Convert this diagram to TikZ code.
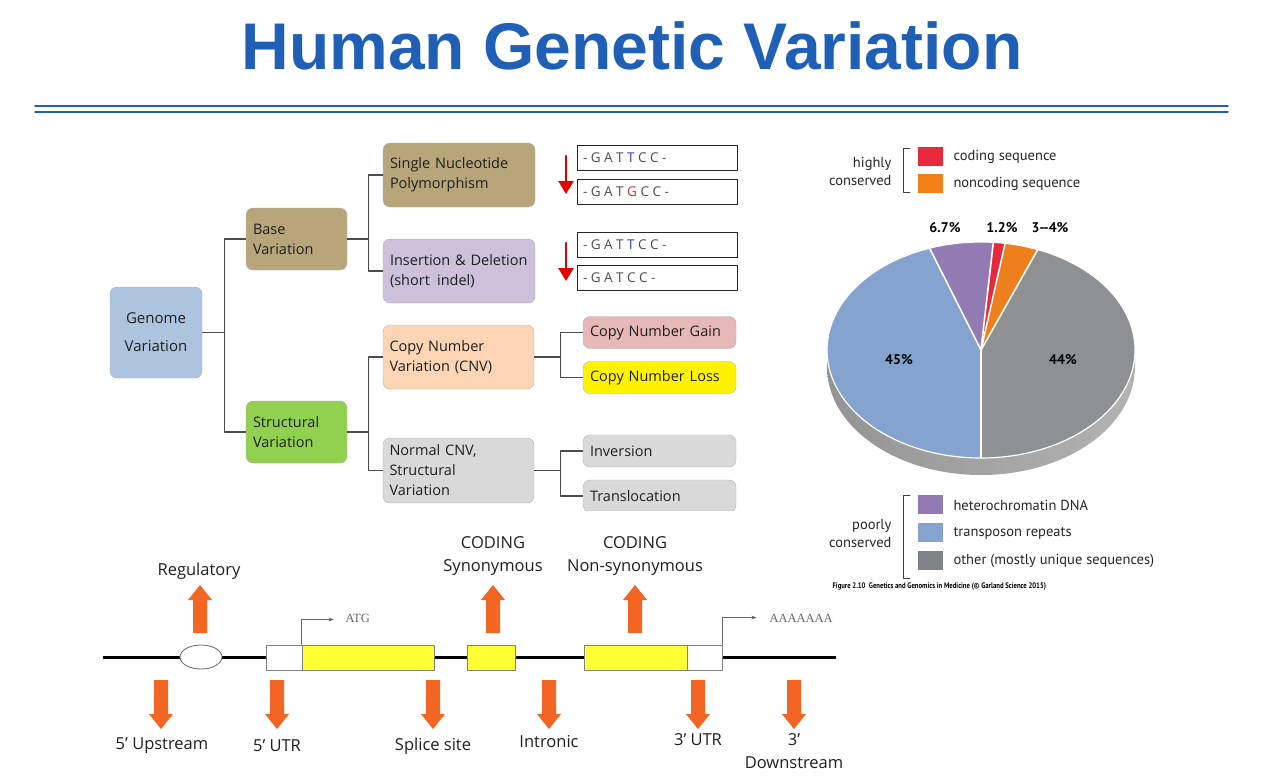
\documentclass[tikz,border=0pt]{standalone}
\usepackage{fontspec}
\setmainfont{Open Sans}
\newfontfamily\titlefont{Liberation Sans}
\newfontfamily\legendfont{PT Sans}
\newfontfamily\tagfont{Liberation Serif}
\usetikzlibrary{arrows.meta}
\definecolor{titleblue}{HTML}{1F5FB5}
\definecolor{genomeblue}{HTML}{ADC4DF}
\definecolor{basetan}{HTML}{B8A67A}
\definecolor{indellilac}{HTML}{CCC0DA}
\definecolor{structgreen}{HTML}{92D050}
\definecolor{cnvpeach}{HTML}{FCD5B5}
\definecolor{gainpink}{HTML}{E6B9B8}
\definecolor{boxgray}{HTML}{D9D9D9}
\definecolor{seqblue}{HTML}{3A3AB0}
\definecolor{seqred}{HTML}{C0392B}
\definecolor{arroworange}{HTML}{F26522}
\definecolor{exonyellow}{HTML}{FFFF33}
\definecolor{codingred}{HTML}{E8293D}
\definecolor{noncodingorange}{HTML}{F57F17}
\definecolor{heteropurple}{HTML}{927BB3}
\definecolor{transpblue}{HTML}{84A4CF}
\definecolor{othergray}{HTML}{8F9092}

\begin{document}
\begin{tikzpicture}[x=1pt,y=-1pt,line cap=round,line join=round,
  varbox/.style={draw=black!30, rounded corners=7pt, inner sep=0pt, text=black!88, font=\fontsize{14.5}{20}\selectfont},
  midbox/.style={varbox, minimum width=152, minimum height=64, text width=138, align=left},
  leafbox/.style={varbox, minimum width=153, minimum height=32, text width=139, align=left},
  seqbox/.style={draw=black!85, line width=0.9pt, minimum width=160, minimum height=25, inner sep=0pt, text width=148, align=left, text=black!70, font=\fontsize{13.5}{15}\selectfont},
  link/.style={draw=black!70, line width=1.1pt, line cap=butt},
  genebox/.style={draw=black!50, line width=0.9pt, minimum height=25, inner sep=0pt},
  tagline/.style={draw=black!60, line width=0.7pt, -{Stealth[length=5pt,width=4pt]}},
  genelabel/.style={font=\fontsize{16.5}{23}\selectfont, text=black!88, align=center},
  legendtext/.style={anchor=west, font=\legendfont\fontsize{14.5}{18}\selectfont, text=black!85},
  pielabel/.style={font=\legendfont\bfseries\fontsize{14}{18}\selectfont}]
  \useasboundingbox (0,0) rectangle (1261,780);

  % title
  \node[font=\titlefont\bfseries\fontsize{66}{70}\selectfont, text=titleblue] (title) at (632,46) {Human Genetic Variation};
  \draw[titleblue, line width=1.4pt] (35,106) -- (1228,106);
  \draw[titleblue, line width=1.4pt] (35,112) -- (1228,112);

  % variation tree
  \node[varbox, fill=genomeblue, minimum width=92, minimum height=91, align=center, font=\fontsize{15}{28}\selectfont] (genome) at (156,332.5) {Genome\\Variation};
  \node[varbox, fill=basetan, minimum width=101, minimum height=62, text width=87, align=left] (base) at (296.5,239) {Base\\Variation};
  \node[varbox, fill=structgreen, minimum width=101, minimum height=62, text width=87, align=left] (structural) at (296.5,432) {Structural\\Variation};
  \node[midbox, fill=basetan] (snp) at (459,175) {Single Nucleotide\\Polymorphism};
  \node[midbox, fill=indellilac] (indel) at (459,271) {Insertion \& Deletion\\(short\ \,indel)};
  \node[midbox, fill=cnvpeach, minimum width=151] (cnv) at (458.5,357) {Copy Number\\Variation (CNV)};
  \node[midbox, fill=boxgray, minimum width=151, minimum height=65] (normal) at (458.5,470.5) {Normal CNV,\\Structural\\Variation};
  \node[leafbox, fill=gainpink] (gain) at (659.5,332.5) {Copy Number Gain};
  \node[leafbox, fill=yellow] (loss) at (659.5,377.5) {Copy Number Loss};
  \node[leafbox, fill=boxgray] (inversion) at (659.5,451) {Inversion};
  \begin{scope}
    \clip (570,470) rectangle (745,510);
    \node[leafbox, fill=boxgray] (transloc) at (659.5,496) {Translocation};
  \end{scope}

  \draw[link] (genome.east) -- ++(22,0) |- (base.west);
  \draw[link] (genome.east) -- ++(22,0) |- (structural.west);
  \draw[link] (base.east) -- ++(21,0) |- (snp.west);
  \draw[link] (base.east) -- ++(21,0) |- (indel.west);
  \draw[link] (structural.east) -- ++(21,0) |- (cnv.west);
  \draw[link] (structural.east) -- ++(21,0) |- (normal.west);
  \draw[link] (cnv.east) -- ++(26,0) |- (gain.west);
  \draw[link] (cnv.east) -- ++(26,0) |- (loss.west);
  \draw[link] (normal.east) -- ++(26,0) |- (inversion.west);
  \draw[link] (normal.east) -- ++(26,0) |- (transloc.west);

  % sequences
  \node[seqbox] (seqa) at (657,157.5) {-\kern3.5pt G\kern3.5pt A\kern3.5pt T\kern3.5pt \textcolor{seqblue}{T}\kern3.5pt C\kern3.5pt C\kern3.5pt -};
  \node[seqbox] (seqb) at (657,192) {-\kern3.5pt G\kern3.5pt A\kern3.5pt T\kern3.5pt \textcolor{seqred}{G}\kern3.5pt C\kern3.5pt C\kern3.5pt -};
  \node[seqbox] (seqc) at (657,245) {-\kern3.5pt G\kern3.5pt A\kern3.5pt T\kern3.5pt \textcolor{seqblue}{T}\kern3.5pt C\kern3.5pt C\kern3.5pt -};
  \node[seqbox] (seqd) at (657,277.5) {-\kern3.5pt G\kern3.5pt A\kern3.5pt T\kern3.5pt C\kern3.5pt C\kern3.5pt -};
  \draw[red!90!black, line width=2.6pt, -{Triangle[length=13pt,width=15pt]}] (566,156) -- (566,194);
  \draw[red!90!black, line width=2.6pt, -{Triangle[length=13pt,width=15pt]}] (566,243) -- (566,281);

  % legend
  \node[anchor=east, align=right, font=\legendfont\fontsize{14.5}{18}\selectfont, text=black!85] (highly) at (895,171) {highly\\conserved};
  \draw[black!75, line width=0.8pt] (910,148) -- (903,148) -- (903,192) -- (910,192);
  \fill[codingred] (918,147) rectangle (943,166);
  \fill[noncodingorange] (918,174) rectangle (943,193);
  \node[legendtext] (coding) at (950,157) {coding sequence};
  \node[legendtext] (noncoding) at (950,184) {noncoding sequence};

  \node[anchor=east, align=right, font=\legendfont\fontsize{14.5}{18}\selectfont, text=black!85] (poorly) at (895,534) {poorly\\conserved};
  \draw[black!75, line width=0.8pt] (910,495) -- (903,495) -- (903,578) -- (910,578);
  \fill[heteropurple] (918,495) rectangle (943,514);
  \fill[transpblue] (918,523) rectangle (943,542);
  \fill[othergray!90!black] (918,551) rectangle (943,570);
  \node[legendtext] (hetero) at (950,505) {heterochromatin DNA};
  \node[legendtext] (transp) at (950,533) {transposon repeats};
  \node[legendtext] (other) at (950,561) {other (mostly unique sequences)};
  \node[anchor=west, font=\legendfont\bfseries\fontsize{8}{9}\selectfont] (caption) at (829,587) {\scalebox{0.84}[1]{Figure 2.10\ \ Genetics and Genomics in Medicine (© Garland Science 2015)}};

  % pie chart
  \begin{scope}[shift={(981,350)}, yscale=-1]
    \shade[left color=black!42, middle color=black!36, right color=black!30] (-154,0) arc[start angle=180, end angle=360, x radius=154, y radius=108] -- (154,-17) arc[start angle=360, end angle=180, x radius=154, y radius=108] -- cycle;
    \fill[othergray] (0,0) -- (-90:154 and 108) arc[start angle=-90, end angle=68.4, x radius=154, y radius=108] -- cycle;
    \fill[noncodingorange!85!brown] (0,0) -- (68.4:154 and 108) arc[start angle=68.4, end angle=81, x radius=154, y radius=108] -- cycle;
    \fill[codingred] (0,0) -- (81:154 and 108) arc[start angle=81, end angle=85.4, x radius=154, y radius=108] -- cycle;
    \fill[heteropurple] (0,0) -- (85.4:154 and 108) arc[start angle=85.4, end angle=109.5, x radius=154, y radius=108] -- cycle;
    \fill[transpblue] (0,0) -- (109.5:154 and 108) arc[start angle=109.5, end angle=270, x radius=154, y radius=108] -- cycle;
    \foreach \a in {-90,68.4,81,85.4,109.5}
      \draw[white, line width=1.6pt] (0,0) -- (\a:154 and 108);
    \draw[white, line width=1.2pt] (0,0) ellipse[x radius=154, y radius=108];
  \end{scope}
  \node[pielabel] (p67) at (945,228) {6.7\%};
  \node[pielabel] (p12) at (1002,228) {1.2\%};
  \node[pielabel] (p34) at (1050,228) {3--4\%};
  \node[pielabel] (p45) at (899,360) {45\%};
  \node[pielabel] (p44) at (1063,360) {44\%};

  % gene structure
  \draw[line width=3pt, line cap=butt] (103,657) -- (836,657);
  \draw[black!60, line width=0.8pt, fill=white] (201,657) ellipse[x radius=21, y radius=12];
  \node[genebox, fill=white, minimum width=36] (utrfive) at (284,657.5) {};
  \node[genebox, fill=exonyellow, minimum width=132] (exonone) at (368,657.5) {};
  \node[genebox, fill=exonyellow, minimum width=48] (exontwo) at (491,657.5) {};
  \node[genebox, fill=exonyellow, minimum width=103] (exonthree) at (635.5,657.5) {};
  \node[genebox, fill=white, minimum width=35] (utrthree) at (704.5,657.5) {};
  \draw[tagline] (exonone.north west) -- ++(0,-25) -- ++(32,0);
  \node[anchor=west, font=\tagfont\fontsize{12.5}{14}\selectfont, text=black!60] (atg) at (342,618) {ATG};
  \draw[tagline] (utrthree.north east) -- ++(0,-27) -- ++(34,0);
  \node[anchor=west, font=\tagfont\fontsize{12.5}{14}\selectfont, text=black!60] (polya) at (766,618) {AAAAAAA};

  \foreach \x in {200,493,635}
    \fill[arroworange] (\x-7,633) -- (\x+7,633) -- (\x+7,600) -- (\x+12,600) -- (\x,585) -- (\x-12,600) -- (\x-7,600) -- cycle;
  \foreach \x in {161,277,433,549,698,794}
    \fill[arroworange] (\x-7,680) -- (\x+7,680) -- (\x+7,714) -- (\x+12,714) -- (\x,729) -- (\x-12,714) -- (\x-7,714) -- cycle;

  \node[genelabel] (regulatory) at (199,571) {Regulatory};
  \node[genelabel] (synon) at (493,556) {CODING\\Synonymous};
  \node[genelabel] (nonsynon) at (635,556) {CODING\\Non-synonymous};
  \node[genelabel] (upstream) at (162,746) {5’ Upstream};
  \node[genelabel] (utrlabfive) at (277,746) {5’ UTR};
  \node[genelabel] (splice) at (433,746) {Splice site};
  \node[genelabel] (intronic) at (549,742) {Intronic};
  \node[genelabel] (utrlabthree) at (698,740) {3’ UTR};
  \node[genelabel] (downstream) at (794,751) {3’\\Downstream};
\end{tikzpicture}
\end{document}
